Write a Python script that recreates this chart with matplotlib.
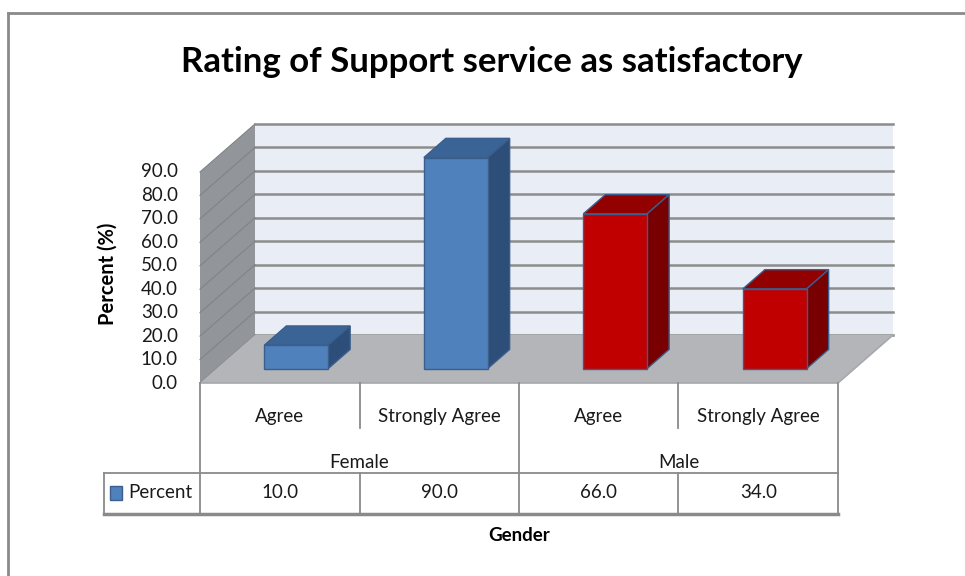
import matplotlib.pyplot as plt
from matplotlib.patches import Polygon, Rectangle
from matplotlib.lines import Line2D

# data
groups = ['Female', 'Male']
categories = ['Agree', 'Strongly Agree', 'Agree', 'Strongly Agree']
group_index = [0, 0, 1, 1]
values = [10.0, 90.0, 66.0, 34.0]
yticks = [0, 10, 20, 30, 40, 50, 60, 70, 80, 90]
series_name = 'Percent'

# colours per gender: front, top, side
face = {0: ('#4f81bd', '#3b6496', '#2d4e78'),
        1: ('#c00000', '#930000', '#780000')}
edge = '#3b5e8c'

plt.rcParams['font.family'] = ['Lato', 'DejaVu Sans']

fig = plt.figure(figsize=(9.65, 5.76), dpi=100)
ax = fig.add_axes([0, 0, 1, 1])
ax.set_axis_off()

# one category = 159.5 px, one percent = 2.345 px, floor front-left corner at (200, 383)
sx, sy, ox, oy = 159.5, 2.345, 200, 383
ax.set_xlim(-ox / sx, (965 - ox) / sx)
ax.set_ylim((oy - 576) / sy, oy / sy)

n = len(values)
top = yticks[-1]
DX, DY = 55 / sx, 48 / sy      # depth of the floor
d0, d1 = 0.3, 0.7              # bar depth inside the floor
w = 0.4                        # bar width

# walls and floor
ax.add_patch(Polygon([(0, 0), (0, top), (DX, top + DY), (DX, DY)],
                     closed=True, fc='#929599', ec='none', zorder=1))
ax.add_patch(Polygon([(DX, DY), (n + DX, DY), (n + DX, top + DY), (DX, top + DY)],
                     closed=True, fc='#e9edf6', ec='none', zorder=1))
for t in yticks:
    ax.plot([DX, n + DX], [t + DY, t + DY], color='#8c8c8c', lw=1.8, zorder=2)
    ax.plot([0, DX], [t, t + DY], color='#808387', lw=0.8, zorder=2)
ax.add_patch(Polygon([(0, 0), (n, 0), (n + DX, DY), (DX, DY)],
                     closed=True, fc='#b3b5b9', ec='none', zorder=3))
ax.plot([0, n, n + DX], [0, 0, DY], color='#a6a8ab', lw=1.2, zorder=3)

# 3d bars
for i, v in enumerate(values):
    fc, tc, sc = face[group_index[i]]
    x0 = i + 0.5 - w / 2 + d0 * DX
    y0 = d0 * DY
    ddx, ddy = (d1 - d0) * DX, (d1 - d0) * DY
    ax.add_patch(Rectangle((x0, y0), w, v, fc=fc, ec=edge, lw=1, zorder=5))
    ax.add_patch(Polygon([(x0, y0 + v), (x0 + w, y0 + v), (x0 + w + ddx, y0 + v + ddy),
                          (x0 + ddx, y0 + v + ddy)], closed=True, fc=tc, ec=edge, lw=1, zorder=4))
    ax.add_patch(Polygon([(x0 + w, y0), (x0 + w + ddx, y0 + ddy), (x0 + w + ddx, y0 + v + ddy),
                          (x0 + w, y0 + v)], closed=True, fc=sc, ec=edge, lw=1, zorder=4))

# value axis labels on the front plane
txt = '#1a1a1a'
for t in yticks:
    ax.text(-0.138, t, f'{t:.1f}', ha='right', va='center', fontsize=13.5, color=txt)
ax.text(-0.577, 46.5, 'Percent (%)', rotation=90, ha='center', va='center',
        fontsize=14.5, fontweight='bold')

# data table under the floor
r1, r2, r3 = -19.2, -38.4, -55.9
grid = dict(color='#8a8a8a', lw=1.3, zorder=6)
ax.plot([0, 0], [0, r3], **grid)
ax.plot([n, n], [0, r3], **grid)
ax.plot([-0.602, n], [r2, r2], **grid)
ax.plot([-0.602, -0.602], [r2, r3], **grid)
ax.plot([-0.602, n], [r3, r3], color='#8a8a8a', lw=2.5, zorder=6)
for i in range(1, n):
    if group_index[i] != group_index[i - 1]:
        ax.plot([i, i], [0, r3], **grid)
    else:
        ax.plot([i, i], [0, r1], **grid)
        ax.plot([i, i], [r2, r3], **grid)

for i, c in enumerate(categories):
    ax.text(i + 0.5, -14.1, c, ha='center', va='center', fontsize=13.5, color=txt)
    ax.text(i + 0.5, -46.9, f'{values[i]:.1f}', ha='center', va='center', fontsize=13.5,
            color=txt)
for g, name in enumerate(groups):
    idx = [i for i in range(n) if group_index[i] == g]
    ax.text((idx[0] + idx[-1] + 1) / 2, -33.7, name, ha='center', va='center',
            fontsize=13.5, color=txt)

ax.add_patch(Rectangle((-0.564, -49.9), 0.075, 6.0, fc='#4f81bd', ec='#3b5e8c', lw=1, zorder=7))
ax.text(-0.451, -46.9, series_name, ha='left', va='center', fontsize=13.5, color=txt)
ax.text(2.0, -65.2, 'Gender', ha='center', va='center', fontsize=13.5, fontweight='bold')

fig.text(0.51, 0.892, 'Rating of Support service as satisfactory', ha='center', va='center',
         fontsize=25, fontweight='bold')

# chart area border (left and top only)
fig.add_artist(Line2D([8 / 965, 8 / 965], [0, 1 - 13 / 576], color='#8a8a8a', lw=2))
fig.add_artist(Line2D([8 / 965, 1], [1 - 13 / 576, 1 - 13 / 576], color='#8a8a8a', lw=2))

fig.savefig('out.png', dpi=100)
